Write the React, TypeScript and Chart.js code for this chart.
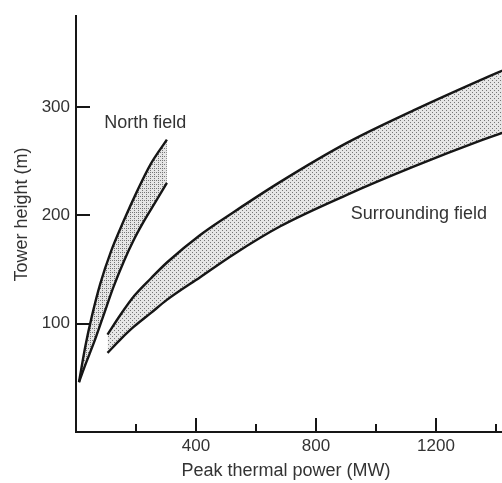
import React, { useEffect, useRef } from 'react';
import { Chart, registerables } from 'chart.js';

Chart.register(...registerables);

// Data (x: peak thermal power MW, y: tower height m)
const northUpperX = [10, 31, 53, 81, 117, 159, 203, 248, 303];
const northUpperY = [46, 79, 107, 137, 167, 195, 222, 247, 270];
const northLowerX = [10, 31, 59, 92, 125, 160, 190, 225, 264, 303];
const northLowerY = [46, 62, 82, 108, 134, 158, 176, 194, 212, 230];
const surroundUpperX = [105, 150, 195, 250, 305, 414, 525, 681, 903, 1125, 1348, 1440];
const surroundUpperY = [90, 109, 126, 142, 157, 182, 203, 231, 267, 297, 325, 336];
const surroundLowerX = [105, 150, 192, 250, 303, 414, 525, 681, 903, 1125, 1348, 1440];
const surroundLowerY = [73, 86, 97, 110, 122, 143, 164, 190, 219, 245, 269, 278];

const xTickValues = [200, 400, 600, 800, 1000, 1200, 1400];
const xLabelledTicks = [400, 800, 1200];
const yTickValues = [100, 200, 300];
const yLabelledTicks = [100, 200, 300];

const annotationTexts = ['North field', 'Surrounding field'];
const annotationX = [231, 1143];
const annotationY = [285, 201];

const xTitle = 'Peak thermal power (MW)';
const yTitle = 'Tower height (m)';

const FONT = '"Liberation Sans", Arial, sans-serif';
const TEXT_COLOR = '#333333';
const LINE_COLOR = '#161616';

const zip = (xs: number[], ys: number[]) => xs.map((x, i) => ({ x, y: ys[i] }));

function makePattern(dark: number): CanvasPattern | string {
  const pc = document.createElement('canvas');
  pc.width = 4;
  pc.height = 4;
  const g = pc.getContext('2d');
  if (!g) return '#d8d8d8';
  g.fillStyle = '#e6e6e6';
  g.fillRect(0, 0, 4, 4);
  g.fillStyle = '#767676';
  g.fillRect(0, 0, 1, 1);
  g.fillRect(2, 2, 1, 1);
  if (dark > 2) g.fillRect(2, 0, 1, 1);
  const p = g.createPattern(pc, 'repeat');
  return p || '#d8d8d8';
}

const decorPlugin = {
  id: 'decor',
  afterDraw(chart: any) {
    const { ctx, chartArea, scales } = chart;
    const xs = scales.x;
    const ys = scales.y;
    ctx.save();
    ctx.strokeStyle = LINE_COLOR;
    ctx.lineWidth = 2;
    xs.ticks.forEach((t: any) => {
      const px = Math.round(xs.getPixelForValue(t.value));
      const len = xLabelledTicks.includes(t.value) ? 14 : 8;
      ctx.beginPath();
      ctx.moveTo(px, chartArea.bottom);
      ctx.lineTo(px, chartArea.bottom - len);
      ctx.stroke();
    });
    ys.ticks.forEach((t: any) => {
      const py = Math.round(ys.getPixelForValue(t.value));
      ctx.beginPath();
      ctx.moveTo(chartArea.left, py);
      ctx.lineTo(chartArea.left + 14, py);
      ctx.stroke();
    });

    ctx.fillStyle = TEXT_COLOR;
    ctx.textAlign = 'center';
    ctx.textBaseline = 'middle';
    ctx.font = `18px ${FONT}`;
    annotationTexts.forEach((txt, i) => {
      ctx.fillText(txt, xs.getPixelForValue(annotationX[i]), ys.getPixelForValue(annotationY[i]));
    });
    ctx.fillText(xTitle, (chartArea.left + chartArea.right) / 2 - 3, chartArea.bottom + 39.5);
    ctx.translate(22, (chartArea.top + chartArea.bottom) / 2 - 9.5);
    ctx.rotate(-Math.PI / 2);
    ctx.fillText(yTitle, 0, 0);
    ctx.restore();
  },
};

export default function App() {
  const canvasRef = useRef<HTMLCanvasElement | null>(null);

  useEffect(() => {
    if (!canvasRef.current) return;
    const northFill = makePattern(3);
    const surroundFill = makePattern(2);
    const lineDs = (label: string, data: any[], fill: any, bg: any) => ({
      label,
      data,
      borderColor: LINE_COLOR,
      borderWidth: 2.4,
      pointRadius: 0,
      pointHoverRadius: 0,
      cubicInterpolationMode: 'monotone',
      fill,
      backgroundColor: bg,
    });
    const chart = new Chart(canvasRef.current, {
      type: 'line',
      data: {
        datasets: [
          lineDs('North field upper', zip(northUpperX, northUpperY), '+1', northFill),
          lineDs('North field lower', zip(northLowerX, northLowerY), false, 'transparent'),
          lineDs('Surrounding field upper', zip(surroundUpperX, surroundUpperY), '+1', surroundFill),
          lineDs('Surrounding field lower', zip(surroundLowerX, surroundLowerY), false, 'transparent'),
        ] as any,
      },
      options: {
        animation: false,
        responsive: false,
        events: [],
        layout: { padding: { top: 12, right: 0, left: 0, bottom: 0 } },
        plugins: {
          legend: { display: false },
          tooltip: { enabled: false },
          filler: { drawTime: 'beforeDatasetsDraw' },
        },
        scales: {
          x: {
            type: 'linear',
            min: 0,
            max: 1420,
            grid: { display: false, drawTicks: false },
            border: { display: true, color: LINE_COLOR, width: 2 },
            afterBuildTicks: (scale: any) => {
              scale.ticks = xTickValues.map((v) => ({ value: v }));
            },
            ticks: {
              autoSkip: false,
              maxRotation: 0,
              padding: 4,
              color: TEXT_COLOR,
              font: { family: FONT, size: 17 },
              callback: (v: any) => (xLabelledTicks.includes(Number(v)) ? String(v) : ''),
            },
            afterFit: (scale: any) => {
              scale.height = 51;
            },
          },
          y: {
            type: 'linear',
            min: 0,
            max: 384,
            grid: { display: false, drawTicks: false },
            border: { display: true, color: LINE_COLOR, width: 2 },
            afterBuildTicks: (scale: any) => {
              scale.ticks = yTickValues.map((v) => ({ value: v }));
            },
            ticks: {
              autoSkip: false,
              padding: 6,
              color: TEXT_COLOR,
              font: { family: FONT, size: 17 },
              callback: (v: any) => (yLabelledTicks.includes(Number(v)) ? String(v) : ''),
            },
            afterFit: (scale: any) => {
              scale.width = 76;
            },
          },
        },
      } as any,
      plugins: [decorPlugin],
    });
    return () => chart.destroy();
  }, []);

  return (
    <div style={{ position: 'absolute', left: 0, top: 0, width: 502, height: 483, background: '#ffffff' }}>
      <canvas ref={canvasRef} width={502} height={483} style={{ display: 'block', width: 502, height: 483 }} />
    </div>
  );
}
